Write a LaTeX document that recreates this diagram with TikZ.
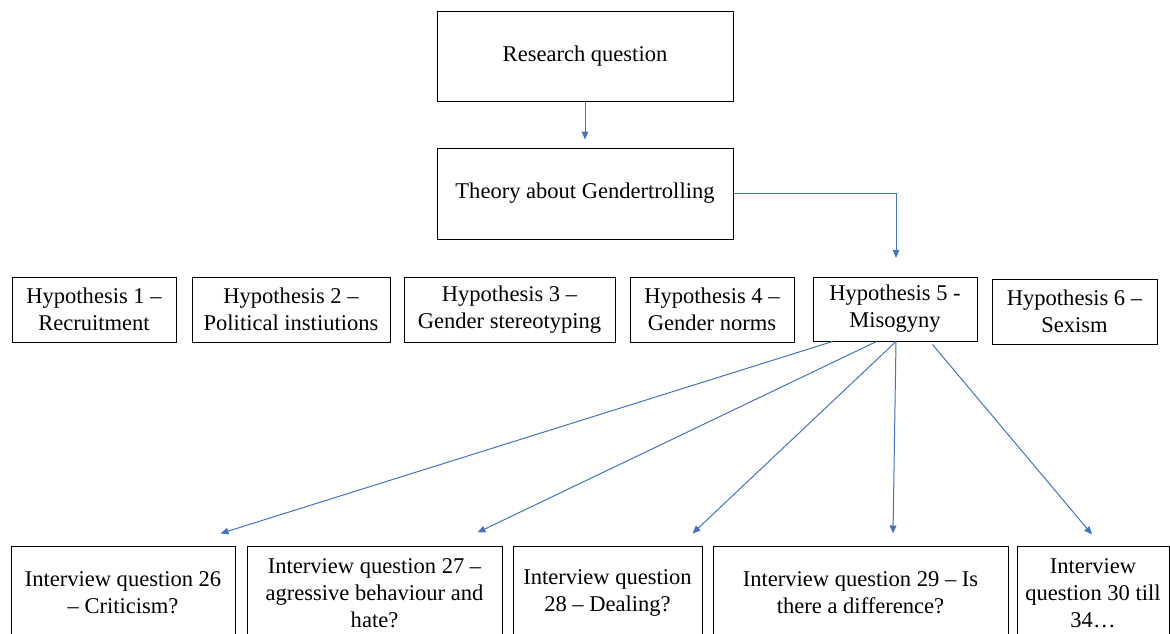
\documentclass[tikz,border=0pt]{standalone}
\usepackage{fontspec}
\setmainfont{Liberation Serif}
\usetikzlibrary{arrows.meta,calc}
\definecolor{arrblue}{HTML}{4472C4}
\tikzset{
  box/.style={draw=black, line width=0.75pt, align=center, inner sep=0pt,
    font=\fontsize{16.9}{20.2}\selectfont, text=black},
  conn/.style={draw=arrblue, line width=0.75pt,
    -{Triangle[length=6pt,width=5pt]}},
}
\begin{document}
\begin{tikzpicture}[x=0.75pt,y=-0.75pt]
\useasboundingbox (0,0) rectangle (1170,633);
\clip (0,0) rectangle (1170,633);
\fill[white] (0,0) rectangle (1170,633);

\node[box, minimum width=222pt, minimum height=67.5pt] (rq) at (585,56) {Research question};
\node[box, minimum width=222pt, minimum height=68.25pt] (th) at (585,193.5) {Theory about Gendertrolling};

\node[box, minimum width=123pt, minimum height=48.75pt] (h1) at (94,309.5) {Hypothesis 1 –\\Recruitment};
\node[box, minimum width=148.5pt, minimum height=48.75pt] (h2) at (291,309.5) {Hypothesis 2 –\\Political instiutions};
\node[box, minimum width=158.25pt, minimum height=48.75pt] (h3) at (509.5,309.5) {Hypothesis 3 –\\Gender stereotyping};
\node[box, minimum width=123pt, minimum height=48.75pt] (h4) at (712,309.5) {Hypothesis 4 –\\Gender norms};
\node[box, minimum width=123pt, minimum height=48pt] (h5) at (895,309) {Hypothesis 5 -\\Misogyny};
\node[box, minimum width=123.75pt, minimum height=48.75pt] (h6) at (1074.5,311.5) {Hypothesis 6 –\\Sexism};

\node[box, minimum width=168pt, minimum height=70.5pt] (q26) at (123,593) {Interview question 26\\– Criticism?};
\node[box, minimum width=191.25pt, minimum height=70.5pt] (q27) at (374.5,593) {Interview question 27 –\\agressive behaviour and\\hate?};
\node[box, minimum width=141.75pt, minimum height=70.5pt] (q28) at (607.5,593) {Interview question\\28 – Dealing?};
\node[box, minimum width=221.25pt, minimum height=70.5pt] (q29) at (860.5,593) {Interview question 29 – Is\\there a difference?};
\node[box, minimum width=114pt, minimum height=70.5pt] (q30) at (1093,593) {Interview\\question 30 till\\34…};

\draw[conn, shorten >=6pt] (rq.south) -- (th.north);
\draw[conn, shorten >=14pt] (th.east) -| ($(h5.north)+(1,0)$);

\draw[conn] ($(h5.south west)+(20,0)$) -- ($(q26.north east)+(-15,-12)$);
\draw[conn] ($(h5.south west)+(64,0)$) -- ($(q27.north east)+(-25,-13)$);
\draw[conn] ($(h5.south)+(1,0)$) -- ($(q28.north east)+(-10,-12)$);
\draw[conn] ($(h5.south)+(1,0)$) -- ($(q29.north)+(32.5,-12)$);
\draw[conn] ($(h5.south east)+(-45,3)$) -- ($(q30.north)+(-1,-11)$);
\end{tikzpicture}
\end{document}
